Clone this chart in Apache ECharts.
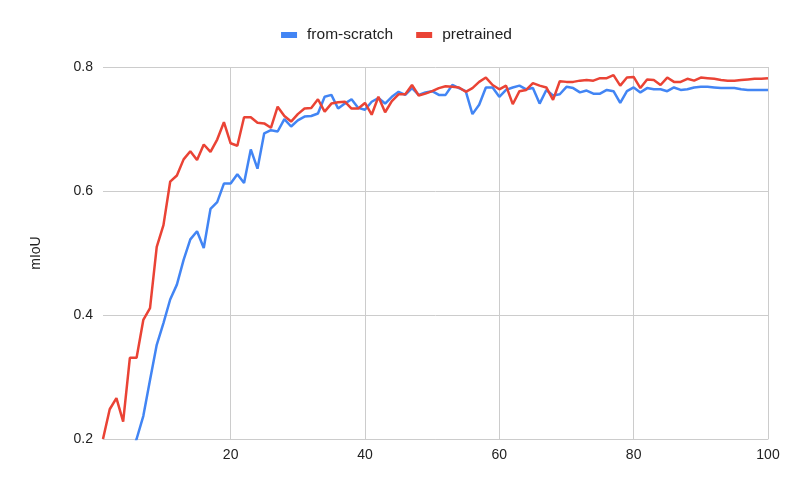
<!DOCTYPE html>
<html>
<head>
<meta charset="utf-8">
<title>mIoU</title>
<script src="https://cdn.jsdelivr.net/npm/echarts@6/dist/echarts.min.js"></script>
<style>
  html, body { margin: 0; padding: 0; background: #fff; }
  #main { width: 793px; height: 490px; }
</style>
</head>
<body>
<div id="main"></div>
<script>
// epochs 1..100
var epochs = [];
for (var e = 1; e <= 100; e++) epochs.push(e);

var xTicks = [20, 40, 60, 80, 100];

// from-scratch (first few points sit below the 0.2 floor and get clipped)
var fromScratch = [
  0.09, 0.11, 0.12, 0.15, 0.17, 0.200, 0.237, 0.295, 0.352, 0.387,
  0.425, 0.449, 0.489, 0.522, 0.535, 0.508, 0.571, 0.582, 0.612, 0.612,
  0.627, 0.613, 0.667, 0.636, 0.693, 0.698, 0.696, 0.716, 0.704, 0.714,
  0.720, 0.721, 0.725, 0.752, 0.755, 0.733, 0.741, 0.748, 0.734, 0.731,
  0.744, 0.750, 0.741, 0.752, 0.760, 0.755, 0.766, 0.755, 0.759, 0.761,
  0.755, 0.755, 0.771, 0.766, 0.761, 0.724, 0.739, 0.767, 0.767, 0.752,
  0.763, 0.767, 0.770, 0.764, 0.766, 0.741, 0.763, 0.754, 0.756, 0.768,
  0.766, 0.759, 0.762, 0.757, 0.757, 0.763, 0.761, 0.742, 0.761, 0.767,
  0.759, 0.766, 0.764, 0.764, 0.761, 0.767, 0.763, 0.764, 0.767, 0.768,
  0.768, 0.767, 0.766, 0.766, 0.766, 0.764, 0.763, 0.763, 0.763, 0.763
];

var pretrained = [
  0.200, 0.248, 0.266, 0.228, 0.331, 0.331, 0.392, 0.411, 0.510, 0.545,
  0.615, 0.625, 0.651, 0.664, 0.650, 0.675, 0.663, 0.683, 0.711, 0.677,
  0.673, 0.719, 0.719, 0.710, 0.709, 0.702, 0.736, 0.721, 0.712, 0.724,
  0.733, 0.734, 0.748, 0.728, 0.741, 0.743, 0.744, 0.733, 0.733, 0.742,
  0.723, 0.752, 0.727, 0.745, 0.756, 0.756, 0.771, 0.754, 0.757, 0.761,
  0.766, 0.769, 0.768, 0.767, 0.760, 0.766, 0.776, 0.783, 0.771, 0.764,
  0.770, 0.740, 0.761, 0.763, 0.774, 0.770, 0.767, 0.747, 0.777, 0.776,
  0.776, 0.778, 0.779, 0.778, 0.782, 0.782, 0.787, 0.770, 0.783, 0.784,
  0.766, 0.780, 0.779, 0.771, 0.783, 0.776, 0.776, 0.781, 0.778, 0.783,
  0.782, 0.781, 0.779, 0.778, 0.778, 0.779, 0.780, 0.781, 0.781, 0.782
];

function pairs(vals) {
  return epochs.map(function (x, i) { return [x, vals[i]]; });
}

var chart = echarts.init(document.getElementById('main'));

var option = {
  animation: false,
  textStyle: { fontFamily: 'Liberation Sans, Arial, sans-serif' },
  color: ['#4285F4', '#EA4335'],
  legend: {
    top: 22,
    left: 'center',
    itemWidth: 16,
    itemHeight: 6,
    itemGap: 23,
    icon: 'rect',
    textStyle: { fontSize: 15.5, color: '#222', padding: [0, 0, 0, 5] },
    data: ['from-scratch', 'pretrained']
  },
  grid: { left: 103, right: 25, top: 67, bottom: 51 },
  xAxis: {
    type: 'value',
    min: 1,
    max: 100,
    axisLine: { show: true, lineStyle: { color: '#ccc' } },
    axisTick: { show: false, customValues: xTicks },
    axisLabel: { customValues: xTicks, fontSize: 14, color: '#222', margin: 9 },
    splitLine: { show: true, lineStyle: { color: '#ccc', width: 1 } }
  },
  yAxis: {
    type: 'value',
    min: 0.2,
    max: 0.8,
    interval: 0.2,
    name: 'mIoU',
    nameLocation: 'middle',
    nameGap: 60,
    nameTextStyle: { fontSize: 14, color: '#222' },
    axisLine: { show: false },
    axisTick: { show: false },
    axisLabel: { fontSize: 14, color: '#222', margin: 10 },
    splitLine: { lineStyle: { color: '#ccc', width: 1 } }
  },
  series: [
    {
      name: 'from-scratch',
      type: 'line',
      showSymbol: false,
      clip: true,
      lineStyle: { width: 2.5 },
      data: pairs(fromScratch)
    },
    {
      name: 'pretrained',
      type: 'line',
      showSymbol: false,
      clip: true,
      lineStyle: { width: 2.5 },
      data: pairs(pretrained)
    }
  ]
};

chart.setOption(option);
</script>
</body>
</html>
